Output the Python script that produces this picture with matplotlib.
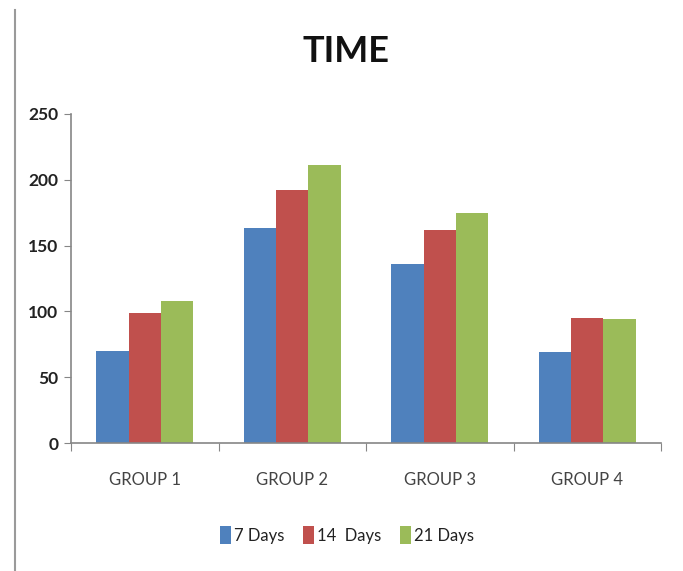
import matplotlib
matplotlib.use("Agg")
import matplotlib.pyplot as plt
from matplotlib.lines import Line2D
import numpy as np

groups = ["GROUP 1", "GROUP 2", "GROUP 3", "GROUP 4"]
series_names = ["7 Days", "14  Days", "21 Days"]
days7 = [70, 163, 136, 69]
days14 = [99, 192, 162, 95]
days21 = [108, 211, 175, 94]
colors = ["#4F81BD", "#C0504D", "#9BBB59"]
yticks = [0, 50, 100, 150, 200, 250]

plt.rcParams['font.family'] = ['Lato', 'DejaVu Sans']

fig = plt.figure(figsize=(6.83, 5.71), dpi=100)
ax = fig.add_axes([71/683, 1-443/571, 590/683, 329/571])

x = np.arange(len(groups))
w = 0.22
for i, (vals, name) in enumerate(zip([days7, days14, days21], series_names)):
    ax.bar(x + (i-1)*w, vals, width=w, color=colors[i], label=name, zorder=2)

ax.set_xlim(-0.5, len(groups)-0.5)
ax.set_ylim(0, 250)
ax.set_yticks(yticks)
ax.set_yticklabels([str(v) for v in yticks], fontsize=12.5, color="#222222", fontweight='bold')
ax.set_xticks(np.arange(-0.5, len(groups), 1.0))
ax.set_xticklabels([])
ax.set_xticks(x, minor=True)
ax.set_xticklabels(groups, minor=True, fontsize=12, color="#444444")
ax.tick_params(axis='x', which='minor', length=0, pad=21)
ax.tick_params(axis='x', which='major', length=6, color="#868686", direction='out')
ax.tick_params(axis='y', length=5, color="#868686", direction='out', pad=4)

for s in ['top', 'right']:
    ax.spines[s].set_visible(False)
for s in ['left', 'bottom']:
    ax.spines[s].set_color("#868686")
    ax.spines[s].set_linewidth(1.2)

fig.text(346/683, 1-52/571, "TIME", ha='center', va='center', fontsize=26, fontweight='bold', color="#111111")

leg = fig.legend(loc='center', bbox_to_anchor=(347/683, 1-535/571), ncol=3, frameon=False,
                 fontsize=12, handlelength=0.65, handleheight=1.25, handletextpad=0.2, columnspacing=1.1)
for t in leg.get_texts():
    t.set_color("#222222")

fig.add_artist(Line2D([15/683, 15/683], [0, 1-10/571], color="#9a9a9a", lw=1.5))

fig.savefig("out.png", dpi=100)
